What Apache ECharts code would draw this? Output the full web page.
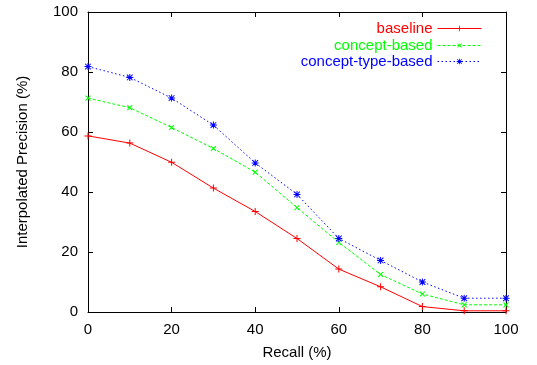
<!DOCTYPE html>
<html>
<head>
<meta charset="utf-8">
<script src="https://cdn.jsdelivr.net/npm/echarts@6/dist/echarts.min.js"></script>
<style>
  html, body { margin: 0; padding: 0; background: #fff; }
  #chart { width: 537px; height: 365px; }
</style>
</head>
<body>
<div id="chart"></div>
<script>
const recall = [0, 10, 20, 30, 40, 50, 60, 70, 80, 90, 100]
const baseline = [58.7, 56.3, 49.9, 41.3, 33.5, 24.5, 14.3, 8.4, 1.8, 0.4, 0.4]
const conceptBased = [71.3, 68.1, 61.5, 54.5, 46.6, 34.8, 23.2, 12.5, 6.0, 2.4, 2.4]
const conceptTypeBased = [81.8, 78.2, 71.3, 62.3, 49.7, 39.2, 24.5, 17.2, 10.0, 4.6, 4.6]

const font = 'Liberation Sans, Arial, sans-serif'
const plus = 'path://M3,0h1v3h3v1h-3v3h-1v-3h-3v-1h3z'
const star = 'path://M3,0h1v3h3v1h-3v3h-1v-3h-3v-1h3zM0.3,1L1,0.3L6.7,6L6,6.7zM6,0.3L6.7,1L1,6.7L0.3,6z'

function pairs(ys) {
  return recall.map((x, i) => [x, ys[i]])
}

function makeSeries(name, ys, color, dash, symbol, rotate) {
  return {
    name: name,
    type: 'line',
    data: pairs(ys),
    symbol: symbol,
    symbolRotate: rotate,
    symbolSize: 7,
    showAllSymbol: true,
    itemStyle: { color: color },
    lineStyle: { color: color, width: 1, type: dash },
    emphasis: { disabled: true },
    animation: false,
  }
}

function legendFor(name, color, dash, top) {
  return {
    data: [name],
    orient: 'vertical',
    align: 'right',
    right: 50,
    top: top,
    itemWidth: 44,
    itemHeight: 7,
    itemGap: 0,
    lineStyle: { width: 1, type: dash },
    textStyle: { color: color, fontFamily: font, fontSize: 15 },
  }
}

const axisCommon = {
  type: 'value',
  min: 0,
  max: 100,
  interval: 20,
  axisLine: { show: true, onZero: false, lineStyle: { color: '#000', width: 1 } },
  axisTick: { show: true, inside: true, length: 5, lineStyle: { color: '#000' } },
  splitLine: { show: false },
}

var myChart = echarts.init(document.getElementById('chart'))
const option = {
  backgroundColor: '#fff',
  grid: { left: 88, right: 31, top: 12, bottom: 52 },
  legend: [
    legendFor('baseline', '#ff0000', 'solid', 16),
    legendFor('concept-based', '#00ff00', [3, 2], 33),
    legendFor('concept-type-based', '#0000ff', [1.5, 2.5], 49),
  ],
  xAxis: [
    Object.assign({}, axisCommon, {
      position: 'bottom',
      name: 'Recall (%)',
      nameLocation: 'middle',
      nameGap: 33,
      nameTextStyle: { color: '#000', fontFamily: font, fontSize: 15 },
      axisLabel: { color: '#000', fontFamily: font, fontSize: 15, margin: 10 },
    }),
    Object.assign({}, axisCommon, {
      position: 'top',
      axisLabel: { show: false },
    }),
  ],
  yAxis: [
    Object.assign({}, axisCommon, {
      position: 'left',
      name: 'Interpolated Precision (%)',
      nameLocation: 'middle',
      nameGap: 58,
      nameTextStyle: { color: '#000', fontFamily: font, fontSize: 15 },
      axisLabel: { color: '#000', fontFamily: font, fontSize: 15, margin: 10 },
    }),
    Object.assign({}, axisCommon, {
      position: 'right',
      axisLabel: { show: false },
    }),
  ],
  series: [
    makeSeries('baseline', baseline, '#ff0000', 'solid', plus, 0),
    makeSeries('concept-based', conceptBased, '#00ff00', [3, 2], plus, 45),
    makeSeries('concept-type-based', conceptTypeBased, '#0000ff', [1.5, 2.5], star, 0),
  ],
}
myChart.setOption(option)
</script>
</body>
</html>
